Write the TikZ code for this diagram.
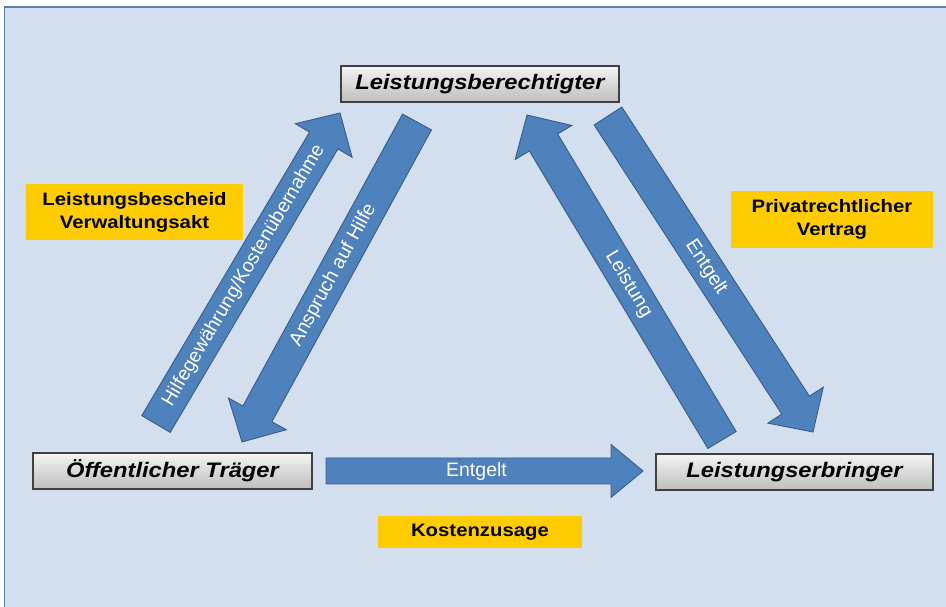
\documentclass[tikz,border=0pt]{standalone}
\usepackage{fontspec}
\setmainfont{Liberation Sans}
\newfontfamily\lblfont[FakeStretch=1.13]{Liberation Sans}
\usetikzlibrary{shadows}
\definecolor{bgblue}{RGB}{211,223,238}
\definecolor{framecol}{RGB}{95,125,170}
\definecolor{arrowfill}{RGB}{79,129,189}
\definecolor{arrowline}{RGB}{56,93,138}
\definecolor{labelyellow}{RGB}{255,204,0}
\definecolor{boxtop}{RGB}{244,244,244}
\definecolor{boxbottom}{RGB}{190,190,190}
\definecolor{boxline}{RGB}{64,64,64}
\tikzset{
 party/.style={draw=boxline, line width=1.2pt, top color=boxtop, bottom color=boxbottom,
   minimum height=36pt, inner sep=0pt,
   font=\lblfont\fontsize{21}{25}\selectfont\bfseries\itshape,
   drop shadow={shadow xshift=1.2pt, shadow yshift=-1.5pt, opacity=0.45}},
 tag/.style={fill=labelyellow, inner sep=0pt, align=center,
   font=\lblfont\fontsize{18}{23}\selectfont\bfseries},
 blockarrow/.style={fill=arrowfill, draw=arrowline, line width=0.9pt, line join=miter},
 arrowtext/.style={text=white, font=\fontsize{19.5}{22}\selectfont, inner sep=0pt},
}
% #1 tail coordinate, #2 tip name, #3 angle, #4 length, #5 shaft half width,
% #6 head half width, #7 text, #8 text rotation
\newcommand\bigarrow[8]{%
 \begin{scope}[shift={(#1)}, rotate=#3]
   \draw[blockarrow] (0,-#5) -- ({#4-32},-#5) -- ({#4-32},-#6) -- (#4,0) coordinate (#2)
     -- ({#4-32},#6) -- ({#4-32},#5) -- (0,#5) -- cycle;
   \node[arrowtext, rotate=#8] (#2-lbl) at ({(#4-32)/2+8},0) {#7};
 \end{scope}}
\begin{document}
\begin{tikzpicture}[x=1pt,y=1pt]
\useasboundingbox (0,0) rectangle (946,607);
\fill[white] (0,0) rectangle (946,607);
\filldraw[fill=bgblue, draw=framecol, line width=1.2pt] (4.5,-10) rectangle (960,600);

% parties
\node[party, minimum width=278pt] (lb) at (480,523) {Leistungsberechtigter};
\node[party, minimum width=279pt] (ot) at (172.5,136) {Öffentlicher Träger};
\node[party, minimum width=277pt] (le) at (794.5,135) {Leistungserbringer};

% yellow labels
\node[tag, minimum width=217pt, minimum height=56pt] (vb) at (134.5,395) {Leistungsbescheid\\Verwaltungsakt};
\node[tag, minimum width=202pt, minimum height=57pt] (pv) at (832,387.5) {Privatrechtlicher\\Vertrag};
\node[tag, minimum width=204pt, minimum height=32pt] (kz) at (480,75) {Kostenzusage};

% arrow tails
\coordinate (ta) at (156,183);
\coordinate (tb) at (417,485);
\coordinate (tc) at (722,167);
\coordinate (td) at (608,491);
\coordinate (te) at (326,136);

\bigarrow{ta}{pa}{59.39}{361.4}{16.5}{33}{Hilfegewährung/Kostenübernahme}{59.39}
\bigarrow{tb}{pb}{-118.67}{364.7}{16.5}{33}{Anspruch auf Hilfe}{61.33}
\bigarrow{tc}{pc}{120.96}{379}{16.5}{33}{Leistung}{-59.04}
\bigarrow{td}{pd}{-57.03}{376.7}{16.5}{33}{Entgelt}{-57.03}
\bigarrow{te}{pe}{0}{317}{13}{26.5}{Entgelt}{0}
\end{tikzpicture}
\end{document}
